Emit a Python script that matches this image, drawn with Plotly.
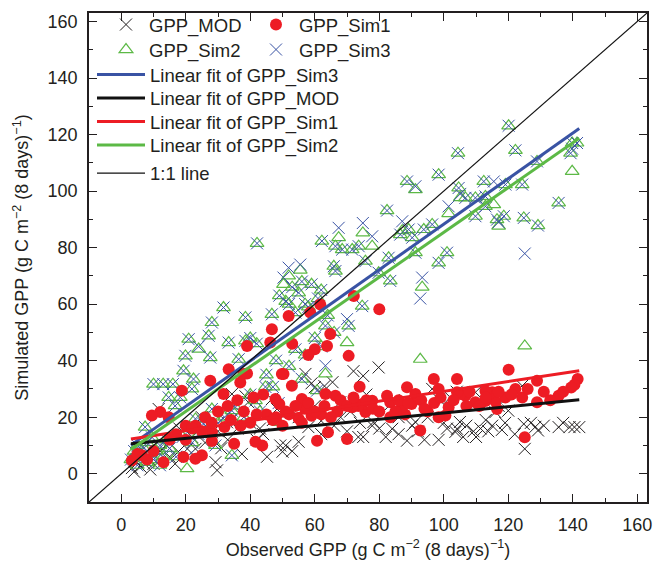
import numpy as np
import plotly.graph_objects as go

# ---------------- data ----------------
obs_sim23 = [141.3, 139.8, 139.3, 139.8, 135.6, 129.2, 128.9, 125.1, 124.8, 124.3, 122.2, 120.1, 119.1, 118.6,
             117.0, 116.5, 115.5, 112.9, 112.9, 112.4, 109.8, 109.8, 106.7, 105.1, 104.6, 104.4, 101.5, 101.0,
             98.4, 98.4, 96.4, 93.8, 93.3, 92.7, 91.2, 91.2, 90.2, 89.1, 88.6, 87.1, 86.5, 83.4, 82.9, 82.4,
             79.8, 77.8, 75.7, 74.9, 74.7, 73.6, 71.6, 70.5, 70.0, 68.5, 67.4, 66.4, 66.4, 65.9, 63.3, 63.3,
             62.2, 60.7, 56.0, 55.5, 51.9, 50.3, 48.8,
             49, 51, 53, 55, 57, 59, 61, 62, 58, 54, 52, 56,
             46.7, 42.1, 38.5, 31.7, 28.1, 27.1, 20.9, 24.0, 33.3, 38.5, 40.0, 42.0, 19.9, 27.6, 19.3, 22.4,
             10.0, 13.0, 16.0, 14.7, 18.3, 21.9, 16.7, 28.1, 36.4, 44.7, 47.0, 41.6, 34.3, 23.0, 7.4, 9.5,
             20.4, 34.3, 29.2, 25.5,
             3, 4, 5, 6, 7, 8, 9, 10, 11, 12, 13, 5, 8, 12, 15, 17, 14, 19, 22, 24, 27, 30, 32, 35, 38, 40,
             43, 45, 48, 52, 54, 57, 60, 62, 64, 66]
gpp_sim3 = [117.0, 117.0, 113.4, 115.0, 95.8, 87.8, 110.5, 77.9, 90.5, 102.3, 114.4, 123.1, 102.3, 91.1,
            89.0, 89.9, 103.4, 98.1, 94.6, 103.4, 97.6, 91.1, 97.6, 99.0, 101.1, 113.4, 94.6, 78.2,
            105.8, 74.6, 88.2, 86.4, 69.4, 62.0, 101.7, 78.2, 83.5, 86.4, 103.4, 89.3, 84.6, 68.2, 76.4, 93.1,
            71.1, 84.0, 75.2, 88.7, 59.3, 80.5, 79.3, 52.3, 54.7, 79.3, 87.0, 80.5, 71.7, 73.4, 52.3, 38.2,
            82.3, 29.4, 33.5, 74.0, 72.9, 69.4, 25.0,
            63, 61, 66, 64, 60, 67, 62, 65, 59, 57, 60, 68,
            56.4, 81.5, 55.3, 58.8, 53.5, 48.8, 47.6, 45.0, 46.4, 47.0, 48.0, 46.0, 41.7, 41.1, 36.4, 33.5,
            31.7, 31.7, 31.7, 27.0, 27.0, 30.0, 24.0, 22.9, 40.5, 30.7, 30.7, 25.9, 22.3, 19.4, 16.5, 12.9,
            6.0, 6.5, 10.0, 17.6,
            5, 8, 3, 6, 9, 4, 7, 5, 8, 3, 6, 10, 11, 10, 9, 6, 12, 13, 11, 14, 16, 18, 20, 24, 20, 28,
            22, 35, 40, 38, 44, 42, 48, 45, 56, 50]
gpp_sim2 = [117.0, 117.0, 113.4, 107.0, 95.8, 87.8, 110.5, 45.2, 90.5, 102.3, 114.4, 123.1, 102.3, 91.1,
            87.6, 89.9, 95.2, 98.1, 94.6, 103.4, 97.6, 91.1, 97.6, 97.7, 101.1, 113.4, 92.0, 78.2,
            105.8, 74.6, 88.2, 86.4, 66.0, 40.5, 100.5, 78.2, 83.5, 86.4, 103.4, 86.0, 84.6, 68.2, 76.4, 93.1,
            71.1, 80.5, 75.2, 85.2, 59.3, 80.5, 79.3, 52.3, 46.4, 79.3, 83.5, 80.5, 71.7, 73.4, 52.3, 35.3,
            82.3, 29.4, 33.5, 72.0, 70.0, 67.0, 18.2,
            63, 61, 66, 64, 60, 67, 62, 65, 59, 57, 60, 68,
            56.4, 81.5, 55.3, 58.8, 53.5, 48.8, 47.6, 44.1, 46.4, 47.0, 48.0, 46.0, 41.7, 41.1, 36.4, 33.5,
            31.7, 31.7, 31.7, 27.0, 27.0, 30.0, 24.1, 22.9, 40.5, 30.7, 30.7, 25.9, 22.3, 19.4, 16.5, 12.9,
            1.8, 6.5, 10.0, 17.6,
            5, 8, 3, 6, 9, 4, 7, 5, 8, 3, 6, 10, 11, 10, 9, 6, 12, 13, 11, 14, 16, 18, 20, 24, 20, 28,
            22, 35, 40, 38, 44, 42, 48, 45, 56, 50]

obs_sim1 = [141.5, 140.5, 139.5, 135.6, 128.9, 128.9, 125.1, 124.3, 122.2, 120.1, 119.1, 116.5, 116.0, 115.0,
            112.9, 112.9, 109.8, 111.0, 106.7, 105.1, 104.1, 104.1, 101.5, 100.5, 98.4, 98.4, 96.9, 95.0,
            92.7, 91.2, 90.0, 88.6, 88.0, 87.0, 83.4, 83.4, 82.4, 80.0, 77.8, 75.7, 74.7, 73.9, 73.5, 72.1,
            71.6, 70.5, 70.0, 67.0, 66.4, 64.8, 64.1, 63.8, 63.3, 62.0, 61.7, 60.7, 60.0, 59.0, 58.6, 58.0,
            57.0, 56.0, 55.0, 53.0, 52.9, 51.9, 51.0, 50.3, 49.8, 49.0, 48.0, 47.8, 46.7, 46.2, 45.0, 43.7,
            42.0, 41.6, 40.0, 39.0, 39.0, 37.9, 37.0, 36.9, 35.0, 34.0, 33.3, 32.0, 31.7, 28.1, 28.1, 27.6,
            25.0, 23.0, 23.0, 20.0, 19.3, 18.8, 14.7, 13.1, 12.1, 9.5, 6.4, 3.3,
            5, 8, 10, 15, 17, 20, 22, 25, 26, 28, 30, 33, 36, 38, 41, 44, 47, 50, 52, 54, 56, 58, 60, 63,
            65, 68, 70, 72, 76, 78, 80, 85, 86, 89, 93, 94, 97, 99, 103, 107, 108, 113, 117, 121, 126,
            131, 133, 137]
gpp_sim1 = [33.5, 31.5, 30.5, 27.6, 32.9, 25.3, 12.9, 27.0, 30.0, 36.8, 27.0, 22.9, 25.6, 28.8,
            29.3, 25.7, 25.3, 24.0, 27.6, 28.2, 33.5, 28.8, 23.5, 20.6, 30.0, 20.0, 33.5, 22.0,
            15.3, 28.2, 24.7, 30.6, 21.0, 23.5, 25.3, 20.0, 27.6, 58.2, 25.8, 21.8, 24.7, 30.8, 24.0, 62.9,
            23.5, 41.7, 12.3, 22.0, 27.6, 49.4, 14.7, 45.2, 28.2, 21.0, 59.9, 11.7, 44.0, 20.5, 57.0, 42.0,
            23.0, 26.4, 19.5, 46.0, 31.1, 55.8, 22.0, 35.3, 35.3, 24.7, 20.0, 26.4, 51.1, 46.4, 21.0, 10.0,
            21.0, 11.3, 18.0, 45.2, 35.5, 35.3, 17.0, 32.3, 10.6, 19.0, 37.0, 16.5, 28.2, 14.8, 11.6, 32.9,
            6.5, 17.0, 5.3, 17.0, 5.9, 29.4, 20.0, 4.1, 21.8, 20.6, 6.5, 4.7,
            7, 5, 8, 12, 14, 12, 16, 15, 20, 18, 22, 24, 26, 22, 27, 28, 19, 17, 21, 24, 18, 25, 22, 24,
            20, 26, 24, 27, 26, 23, 22, 22, 26, 25, 26, 23, 25, 27, 26, 24, 29, 27, 29, 28, 30,
            29, 26, 29]

obs_mod = [142, 140.5, 139, 135.6, 129.2, 128.4, 125.1, 124.8, 124.3, 120, 119, 118, 116, 115, 113.8, 113,
           111.4, 109.8, 109.2, 107, 105, 104.1, 103.6, 102, 104, 98.4, 98.4, 96.4, 94, 91.2, 90.2, 88.6,
           86, 84, 82, 79.8, 78.2, 77.8, 75, 75, 73.5, 72, 70, 67.9, 66, 65.5, 63, 62, 60, 59, 58, 57.1,
           55, 53, 51, 50, 49.3, 48.3, 46.7, 45.2, 44, 42, 39.4, 38.5, 37.4, 36, 34.3, 33, 32.8, 31, 29.7,
           29.2, 28.1, 26, 23, 22, 20.5, 17.7, 16.7, 15, 14, 11.6, 10, 9, 8, 6, 5, 4, 3.3,
           12, 18, 25, 27, 30, 35, 40, 43, 47, 52, 55, 60, 62, 68, 71, 74, 76, 80, 83, 86, 88, 92, 95,
           100, 101, 106, 110, 117, 122, 127, 131, 137]
gpp_mod = [16.5, 16.5, 16.5, 16.5, 15.3, 16.6, 8.8, 17.6, 31.1, 22.3, 18, 15.5, 21.8, 17, 15, 19,
           16, 28.8, 15, 17, 18.3, 15.9, 14.8, 27, 29, 26.4, 12, 30, 12, 18.3, 17, 11.7,
           14, 15.9, 13, 37.6, 18.3, 17, 34.6, 13, 13, 36.3, 15, 25.3, 17, 32.4, 31, 18.7, 30.6, 32, 16.5, 35.3,
           11.3, 8, 10, 7.8, 10, 22.9, 26.4, 6, 14, 12, 25.3, 27.4, 7, 16, 28.2, 12, 18.2, 9, 1.2,
           4.1, 14.7, 11, 8.8, 13, 8.8, 7.8, 3.5, 6, 10, 22.9, 3.5, 1.5, 6, 2.5, 4, 0.7, 2,
           8, 16, 20, 18, 15, 20, 18, 16, 19, 22, 20, 24, 14, 20, 22, 18, 28, 16, 24, 20, 26, 15, 20,
           18, 16, 13, 13, 24, 14, 18, 17, 18]

# linear fits (slope, intercept)
fit_names = ["Linear fit of GPP_Sim3", "Linear fit of GPP_MOD", "Linear fit of GPP_Sim1", "Linear fit of GPP_Sim2"]
fit_slope = [0.806, 0.112, 0.1735, 0.792]
fit_intercept = [7.7, 10.3, 11.8, 6.2]
fit_x_range = [3.0, 142.0]
one_to_one = [-10, 163]

# ---------------- styling ----------------
FONT = "Liberation Sans, Arial, sans-serif"
TXT = "#231f20"
C_MOD = "#231f20"
C_SIM1 = "#ed1c24"
C_SIM2 = "#5cb946"
C_SIM3 = "#3953a4"
fit_colors = [C_SIM3, "#111111", C_SIM1, C_SIM2]

L_PX, R_PX, T_PX, B_PX = 89, 647, 13, 502
W, H = 655, 567


def px_to_paper(xp, yp):
    return (xp - L_PX) / (R_PX - L_PX), (B_PX - yp) / (B_PX - T_PX)


def single_legend(xp, yp, itemwidth, yanchor="middle"):
    x, y = px_to_paper(xp, yp)
    return dict(x=x, y=y, xanchor="left", yanchor=yanchor, orientation="v",
                itemwidth=itemwidth, bgcolor="rgba(0,0,0,0)",
                font=dict(family=FONT, size=18.5, color=TXT))


fig = go.Figure()

fig.add_trace(go.Scatter(x=obs_mod, y=gpp_mod, mode="markers", name="GPP_MOD",
                         marker=dict(symbol="x-thin-open", size=12, color=C_MOD, line=dict(color=C_MOD, width=1)),
                         legend="legend2"))
fig.add_trace(go.Scatter(x=obs_sim23, y=gpp_sim2, mode="markers", name="GPP_Sim2",
                         marker=dict(symbol="triangle-up-open", size=12, color=C_SIM2, line=dict(color=C_SIM2, width=1.2)),
                         legend="legend4"))
fig.add_trace(go.Scatter(x=obs_sim23, y=gpp_sim3, mode="markers", name="GPP_Sim3",
                         marker=dict(symbol="x-thin-open", size=12, color=C_SIM3, line=dict(color=C_SIM3, width=1)),
                         legend="legend5"))
fig.add_trace(go.Scatter(x=obs_sim1, y=gpp_sim1, mode="markers", name="GPP_Sim1",
                         marker=dict(symbol="circle", size=12, color=C_SIM1),
                         legend="legend3"))

line_legends = ["legend6", "legend7", "legend8", "legend9"]
for name, s, b, c, lg in zip(fit_names, fit_slope, fit_intercept, fit_colors, line_legends):
    xs = np.array(fit_x_range)
    fig.add_trace(go.Scatter(x=xs, y=s * xs + b, mode="lines", name=name,
                             line=dict(color=c, width=3), legend=lg))
fig.add_trace(go.Scatter(x=one_to_one, y=one_to_one, mode="lines", name="1:1 line",
                         line=dict(color="#111111", width=1.2), legend="legend10"))

axis_common = dict(range=[-10, 163], showgrid=False, zeroline=False, showline=True,
                   linecolor="#231f20", linewidth=1.5, mirror="ticks", ticks="inside",
                   ticklen=8, tickwidth=1.3, tickcolor="#231f20", dtick=20, tick0=0,
                   tickfont=dict(family=FONT, size=18, color=TXT),
                   minor=dict(dtick=10, tick0=0, ticks="inside", ticklen=4, tickwidth=1.3, tickcolor="#231f20"))

fig.update_layout(
    width=W, height=H,
    margin=dict(l=L_PX, r=W - R_PX, t=T_PX, b=H - B_PX, autoexpand=False),
    paper_bgcolor="white", plot_bgcolor="white",
    font=dict(family=FONT, color=TXT),
    showlegend=True,
    xaxis=dict(axis_common, title=dict(text="Observed GPP (g C m<sup>−2</sup> (8 days)<sup>−1</sup>)",
                                       font=dict(family=FONT, size=18, color=TXT), standoff=9),
               ticklabelstandoff=6),
    yaxis=dict(axis_common, title=dict(text="Simulated GPP (g C m<sup>−2</sup> (8 days)<sup>−1</sup>)",
                                       font=dict(family=FONT, size=18, color=TXT), standoff=14),
               ticklabelstandoff=6),
    legend2=single_legend(103, 25, 36),
    legend3=single_legend(253, 25, 36),
    legend4=single_legend(103, 50, 36),
    legend5=single_legend(253, 50, 36),
    legend6=single_legend(92, 75, 48),
    legend7=single_legend(92, 98.5, 48),
    legend8=single_legend(92, 122, 48),
    legend9=single_legend(92, 145.5, 48),
    legend10=single_legend(92, 173.5, 48),
)

fig.write_html("out.html", config={"displayModeBar": False},
               post_script="document.body.style.margin='0';document.body.style.overflow='hidden';")
